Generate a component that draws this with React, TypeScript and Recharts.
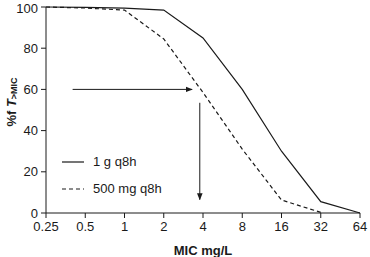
import { Line, LineChart, ReferenceLine, XAxis, YAxis } from "recharts";

const micTicks = [0.25, 0.5, 1, 2, 4, 8, 16, 32, 64];
const yTicks = [0, 20, 40, 60, 80, 100];

const oneGram = [100, 99.8, 99.5, 98.5, 85, 60, 30, 5.5, 0];
const fiveHundred = [100, 99.5, 98.5, 84.5, 58.5, 31, 6.3, 0.3, null];

const seriesInfo = [
  { key: "g1", name: "1 g q8h", dash: undefined },
  { key: "mg500", name: "500 mg q8h", dash: "4 3" },
];

// arrows: target 60% -> MIC ~4
const hArrow = [
  { x: 0.4, y: 60 },
  { x: 3.3, y: 60 },
];
const vArrow = [
  { x: 3.78, y: 53.5 },
  { x: 3.78, y: 6.5 },
];

const data = micTicks.map((mic, i) => ({ mic, g1: oneGram[i], mg500: fiveHundred[i] }));

const ink = "#1a1a1a";
const font = "Liberation Sans, Arial, Helvetica, sans-serif";

function YLabel({ viewBox }: any) {
  const cx = 11;
  const cy = viewBox.y + viewBox.height / 2 - 8;
  return (
    <text
      x={cx}
      y={cy}
      transform={`rotate(-90 ${cx} ${cy})`}
      textAnchor="middle"
      dominantBaseline="central"
      fontSize={13}
      fontWeight="bold"
      fill={ink}
      fontFamily={font}
    >
      %f{" "}
      <tspan fontStyle="italic">T</tspan>
      <tspan fontSize={9} dy={3}>{">MIC"}</tspan>
    </text>
  );
}

function LegendBox() {
  return (
    <div style={{ position: "absolute", left: 62, top: 148, fontFamily: font, fontSize: 13, color: ink }}>
      {seriesInfo.map((s) => (
        <div key={s.key} style={{ display: "flex", alignItems: "center", height: 27 }}>
          <svg width={22} height={4} style={{ marginRight: 9 }}>
            <line x1={0} y1={2} x2={22} y2={2} stroke={ink} strokeWidth={1.2} strokeDasharray={s.dash} />
          </svg>
          <span>{s.name}</span>
        </div>
      ))}
    </div>
  );
}

export default function App() {
  return (
    <div style={{ position: "absolute", left: 0, top: 0, width: 370, height: 257, background: "#fff" }}>
      <svg width={0} height={0} style={{ position: "absolute" }}>
        <defs>
          <marker id="arrowHead" viewBox="0 0 10 10" refX={9} refY={5} markerWidth={7} markerHeight={7} orient="auto" markerUnits="userSpaceOnUse">
            <path d="M0,1 L10,5 L0,9 Z" fill={ink} />
          </marker>
        </defs>
      </svg>
      <LineChart width={370} height={257} data={data} margin={{ top: 7, right: 10, bottom: 0, left: 0 }}>
        <XAxis
          dataKey="mic"
          type="number"
          scale="log"
          domain={[0.25, 64]}
          ticks={micTicks}
          tickFormatter={(v: number) => String(v)}
          interval={0}
          height={44}
          tickSize={5}
          tickMargin={4}
          stroke={ink}
          tick={{ fill: ink, fontSize: 13, fontFamily: font }}
          label={{ value: "MIC mg/L", position: "insideBottom", offset: 2, fill: ink, fontSize: 13, fontWeight: "bold", fontFamily: font }}
        />
        <YAxis
          type="number"
          domain={[0, 100]}
          ticks={yTicks}
          width={46}
          tickSize={5}
          tickMargin={3}
          stroke={ink}
          tick={{ fill: ink, fontSize: 13, fontFamily: font }}
          label={{ content: YLabel }}
        />
        <ReferenceLine segment={hArrow} stroke={ink} strokeWidth={1} markerEnd="url(#arrowHead)" ifOverflow="visible" />
        <ReferenceLine segment={vArrow} stroke={ink} strokeWidth={1} markerEnd="url(#arrowHead)" ifOverflow="visible" />
        {seriesInfo.map((s) => (
          <Line
            key={s.key}
            dataKey={s.key}
            name={s.name}
            type="linear"
            stroke={ink}
            strokeWidth={1.2}
            strokeDasharray={s.dash}
            dot={false}
            activeDot={false}
            connectNulls={false}
            isAnimationActive={false}
          />
        ))}
      </LineChart>
      <LegendBox />
    </div>
  );
}
